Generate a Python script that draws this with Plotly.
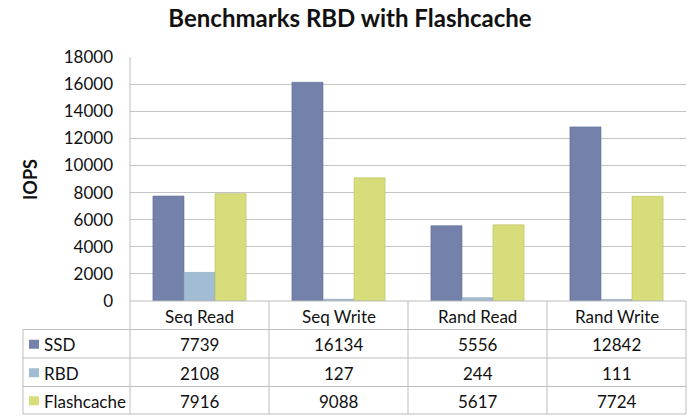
import plotly.graph_objects as go

categories = ["Seq Read", "Seq Write", "Rand Read", "Rand Write"]
series_names = ["SSD", "RBD", "Flashcache"]
ssd = [7739, 16134, 5556, 12842]
rbd = [2108, 127, 244, 111]
flashcache = [7916, 9088, 5617, 7724]
colors = ["#7482AB", "#A2BDD3", "#D7DD7A"]
line_colors = ["#5E6B92", "#87A3BA", "#B8BE5E"]

W, H = 700, 420
L, R, T, B = 130, 686, 57, 301   # plot area in pixels
pw, ph = R - L, B - T

def px(x):
    return (x - L) / pw

def py(y):
    return (B - y) / ph

FONT = "Lato, 'Open Sans', sans-serif"
GRID = "#C4C4C4"
TLINE = "#BDBDBD"
FS = 17

fig = go.Figure()
for name, vals, c, lc in zip(series_names, [ssd, rbd, flashcache], colors, line_colors):
    fig.add_trace(go.Bar(x=categories, y=vals, name=name, marker=dict(color=c, line=dict(color=lc, width=0.6)),
                         showlegend=False))

shapes = []
annotations = []

# table row boundaries (pixels)
rows_y = [301, 329.5, 358, 386.5, 414]
shapes.append(dict(type="line", xref="paper", yref="paper", x0=0, x1=1, y0=py(rows_y[0]), y1=py(rows_y[0]),
                   line=dict(color=TLINE, width=1)))
for yy in rows_y[1:]:
    shapes.append(dict(type="line", xref="paper", yref="paper", x0=px(23), x1=1, y0=py(yy), y1=py(yy),
                       line=dict(color=TLINE, width=1)))
shapes.append(dict(type="line", xref="paper", yref="paper", x0=px(23), x1=px(23), y0=py(rows_y[1]), y1=py(rows_y[-1]),
                   line=dict(color=TLINE, width=1)))
shapes.append(dict(type="line", xref="paper", yref="paper", x0=0, x1=0, y0=1, y1=py(rows_y[-1]),
                   line=dict(color=TLINE, width=1)))
for i in range(len(categories)):
    xb = (i + 1) / len(categories)
    shapes.append(dict(type="line", xref="paper", yref="paper", x0=xb, x1=xb, y0=py(rows_y[0]), y1=py(rows_y[-1]),
                       line=dict(color=TLINE, width=1)))

for cat in categories:
    annotations.append(dict(x=cat, y=py((rows_y[0] + rows_y[1]) / 2 + 1), xref="x", yref="paper", text=cat,
                            showarrow=False, font=dict(family=FONT, size=FS, color="#111"), xanchor="center",
                            yanchor="middle"))
for r, (name, vals, c) in enumerate(zip(series_names, [ssd, rbd, flashcache], colors)):
    yc = (rows_y[r + 1] + rows_y[r + 2]) / 2 + 1
    shapes.append(dict(type="rect", xref="paper", yref="paper", x0=px(29), x1=px(39), y0=py(yc - 5), y1=py(yc + 4),
                       fillcolor=c, line=dict(width=0)))
    annotations.append(dict(x=px(42), y=py(yc), xref="paper", yref="paper", text=name, showarrow=False,
                            font=dict(family=FONT, size=FS, color="#111"), xanchor="left", yanchor="middle"))
    for cat, v in zip(categories, vals):
        annotations.append(dict(x=cat, y=py(yc), xref="x", yref="paper", text=str(v), showarrow=False,
                                font=dict(family=FONT, size=FS, color="#111"), xanchor="center", yanchor="middle"))

annotations.append(dict(x=px(30), y=py(180), xref="paper", yref="paper", text="<b>IOPS</b>", showarrow=False,
                        textangle=-90, font=dict(family=FONT, size=18, color="#111"), xanchor="center",
                        yanchor="middle"))

fig.update_layout(
    width=W, height=H,
    margin=dict(l=L, r=W - R, t=T, b=H - B),
    paper_bgcolor="white", plot_bgcolor="white",
    title=dict(text="<b>Benchmarks RBD with Flashcache</b>", x=0.5, xanchor="center", y=1 - 19 / H,
               yanchor="middle", font=dict(family=FONT, size=24, color="#111")),
    barmode="group", bargap=0.33, bargroupgap=0,
    xaxis=dict(showticklabels=False, showgrid=False, zeroline=False, showline=False, ticks=""),
    yaxis=dict(range=[0, 18000], dtick=2000, tickformat="d", showgrid=True, gridcolor=GRID, gridwidth=1,
               zeroline=False, showline=False, ticks="", tickfont=dict(family=FONT, size=17, color="#111"),
               ticklabelstandoff=16),
    shapes=shapes, annotations=annotations,
)

fig.write_html("out.html")
